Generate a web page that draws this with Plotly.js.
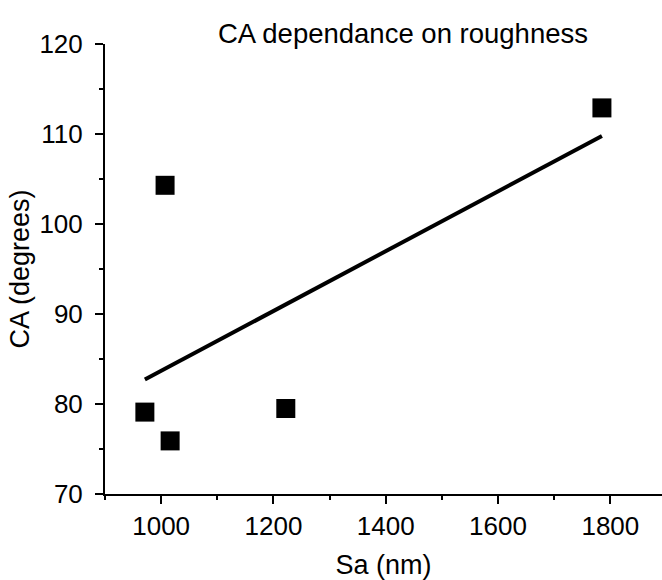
<!DOCTYPE html>
<html>
<head>
<meta charset="utf-8">
<script src="https://cdn.plot.ly/plotly-3.0.1.min.js"></script>
<style>
  html, body { margin: 0; padding: 0; background: #fff; }
  #chart { width: 662px; height: 580px; }
</style>
</head>
<body>
<div id="chart"></div>
<script>
// Surface roughness Sa (nm) and measured contact angle CA (degrees)
const saNm = [971, 1016, 1222, 1007, 1785];
const caDeg = [79.1, 75.9, 79.5, 104.3, 112.9];

const xTickVals = [1000, 1200, 1400, 1600, 1800];
const yTickVals = [70, 80, 90, 100, 110, 120];

// Least-squares linear fit through the measurements
function linearFit(xs, ys) {
  const n = xs.length;
  const mx = xs.reduce((a, b) => a + b, 0) / n;
  const my = ys.reduce((a, b) => a + b, 0) / n;
  let sxy = 0, sxx = 0;
  for (let i = 0; i < n; i++) {
    sxy += (xs[i] - mx) * (ys[i] - my);
    sxx += (xs[i] - mx) * (xs[i] - mx);
  }
  const slope = sxy / sxx;
  return { slope: slope, intercept: my - slope * mx };
}
const fit = linearFit(saNm, caDeg);
const fitX = [Math.min(...saNm), Math.max(...saNm)];
const fitY = fitX.map(x => fit.intercept + fit.slope * x);

const font = 'Liberation Sans, Arial, sans-serif';

const traces = [
  {
    x: fitX, y: fitY, type: 'scatter', mode: 'lines',
    line: { color: '#000', width: 4 }, hoverinfo: 'skip'
  },
  {
    x: saNm, y: caDeg, type: 'scatter', mode: 'markers',
    marker: { symbol: 'square', size: 19, color: '#000' }
  }
];

const axisCommon = {
  showline: true, linecolor: '#000', linewidth: 2,
  ticks: 'outside', ticklen: 8, tickwidth: 2, tickcolor: '#000',
  showgrid: false, zeroline: false,
  tickfont: { family: font, size: 26, color: '#000' },
  minor: { ticks: 'outside', ticklen: 4, tickwidth: 2, tickcolor: '#000', showgrid: false }
};

const layout = {
  width: 662, height: 580,
  margin: { l: 105, r: 0, t: 44, b: 86 },
  paper_bgcolor: '#fff', plot_bgcolor: '#fff',
  showlegend: false,
  title: {
    text: 'CA dependance on roughness',
    font: { family: font, size: 27.5, color: '#000' },
    xref: 'paper', x: 0.535, xanchor: 'center',
    yref: 'container', y: 1 - 33 / 580, yanchor: 'middle'
  },
  xaxis: Object.assign({}, axisCommon, {
    range: [900, 1892],
    tickvals: xTickVals,
    ticktext: xTickVals.map(String),
    minor: Object.assign({}, axisCommon.minor, { dtick: 100, tick0: 900 }),
    title: { text: 'Sa (nm)', font: { family: font, size: 27, color: '#000' }, standoff: 15 }
  }),
  yaxis: Object.assign({}, axisCommon, {
    range: [70, 120],
    tickvals: yTickVals,
    ticktext: yTickVals.map(String),
    ticklabelstandoff: 7,
    minor: Object.assign({}, axisCommon.minor, { dtick: 5, tick0: 70 }),
    title: { text: 'CA (degrees)', font: { family: font, size: 27, color: '#000' }, standoff: 2 }
  })
};

Plotly.newPlot('chart', traces, layout, { displayModeBar: false, staticPlot: true });
</script>
</body>
</html>
